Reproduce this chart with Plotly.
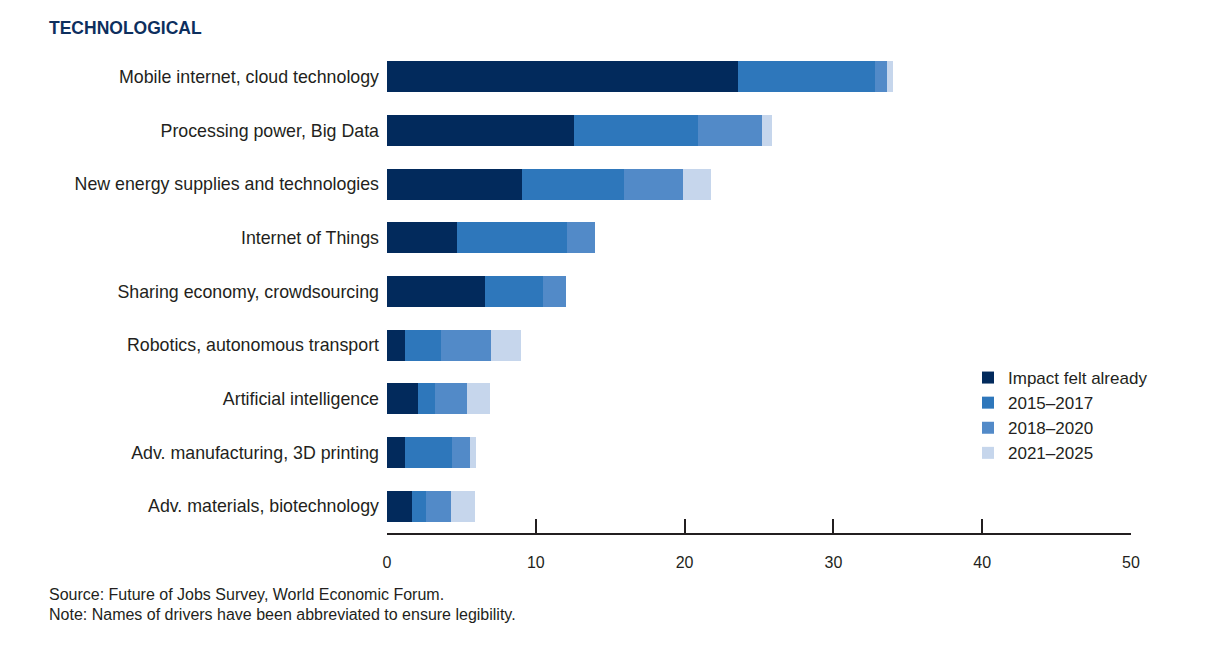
import plotly.graph_objects as go

categories = [
    "Mobile internet, cloud technology",
    "Processing power, Big Data",
    "New energy supplies and technologies",
    "Internet of Things",
    "Sharing economy, crowdsourcing",
    "Robotics, autonomous transport",
    "Artificial intelligence",
    "Adv. manufacturing, 3D printing",
    "Adv. materials, biotechnology",
]
impact_felt_already = [23.6, 12.6, 9.1, 4.7, 6.6, 1.2, 2.1, 1.2, 1.7]
y2015_2017 = [9.2, 8.3, 6.8, 7.4, 3.9, 2.4, 1.1, 3.2, 0.9]
y2018_2020 = [0.8, 4.3, 4.0, 1.9, 1.5, 3.4, 2.2, 1.2, 1.7]
y2021_2025 = [0.4, 0.7, 1.9, 0.0, 0.0, 2.0, 1.5, 0.4, 1.6]

series_names = ["Impact felt already", "2015\u20132017", "2018\u20132020", "2021\u20132025"]
series_values = [impact_felt_already, y2015_2017, y2018_2020, y2021_2025]
colors = ["#022a5c", "#2e77bb", "#528ac8", "#c6d6ec"]
tick_vals = [0, 10, 20, 30, 40, 50]

FONT = "Liberation Sans, Arial, Helvetica, sans-serif"

fig = go.Figure()
for i, (name, vals, col) in enumerate(zip(series_names, series_values, colors)):
    fig.add_trace(go.Bar(
        y=categories, x=vals, name=name, orientation="h",
        marker=dict(color=col, line=dict(width=0)),
        legendgroup=f"g{i}",
    ))

W, H = 1228, 664
ml, mr, mt, mb = 387, 97, 50, 131
ph = H - mt - mb
pw = W - ml - mr

def px(xp):
    return (xp - ml) / pw

def py(yp):
    return (H - mb - yp) / ph

fig.update_layout(
    width=W, height=H,
    margin=dict(l=ml, r=mr, t=mt, b=mb, pad=0),
    barmode="stack",
    bargap=0.42,
    plot_bgcolor="white", paper_bgcolor="white",
    font=dict(family=FONT, size=17, color="#231f20"),
    xaxis=dict(
        range=[0, 50], tickvals=tick_vals, showgrid=False, zeroline=False,
        showline=True, linecolor="#231f20", linewidth=2,
        ticks="inside", ticklen=14, tickwidth=2, tickcolor="#231f20",
        tickfont=dict(size=16, color="#231f20"), ticklabelstandoff=14,
        fixedrange=True,
    ),
    yaxis=dict(
        autorange="reversed", showgrid=False, zeroline=False, showline=False,
        ticks="", ticklabelstandoff=7,
        tickfont=dict(size=17.8, color="#231f20"), fixedrange=True,
    ),
    legend=dict(
        x=px(968), y=py(360), xanchor="left", yanchor="top",
        font=dict(size=17, color="#231f20"), tracegroupgap=2.7,
        bgcolor="rgba(0,0,0,0)", traceorder="normal",
    ),
    showlegend=True,
)

fig.add_annotation(
    text="<b>TECHNOLOGICAL</b>", xref="paper", yref="paper",
    x=px(47), y=py(28), xanchor="left", yanchor="middle", showarrow=False,
    font=dict(size=17.5, color="#0d2f5e", family=FONT),
)
fig.add_annotation(
    text="Source: Future of Jobs Survey, World Economic Forum.", xref="paper", yref="paper",
    x=px(47), y=py(594), xanchor="left", yanchor="middle", showarrow=False,
    font=dict(size=16, color="#231f20", family=FONT),
)
fig.add_annotation(
    text="Note: Names of drivers have been abbreviated to ensure legibility.", xref="paper", yref="paper",
    x=px(47), y=py(614), xanchor="left", yanchor="middle", showarrow=False,
    font=dict(size=16, color="#231f20", family=FONT),
)

fig.write_html("out.html", config={"displayModeBar": False},
               post_script="document.body.style.margin='0';")
